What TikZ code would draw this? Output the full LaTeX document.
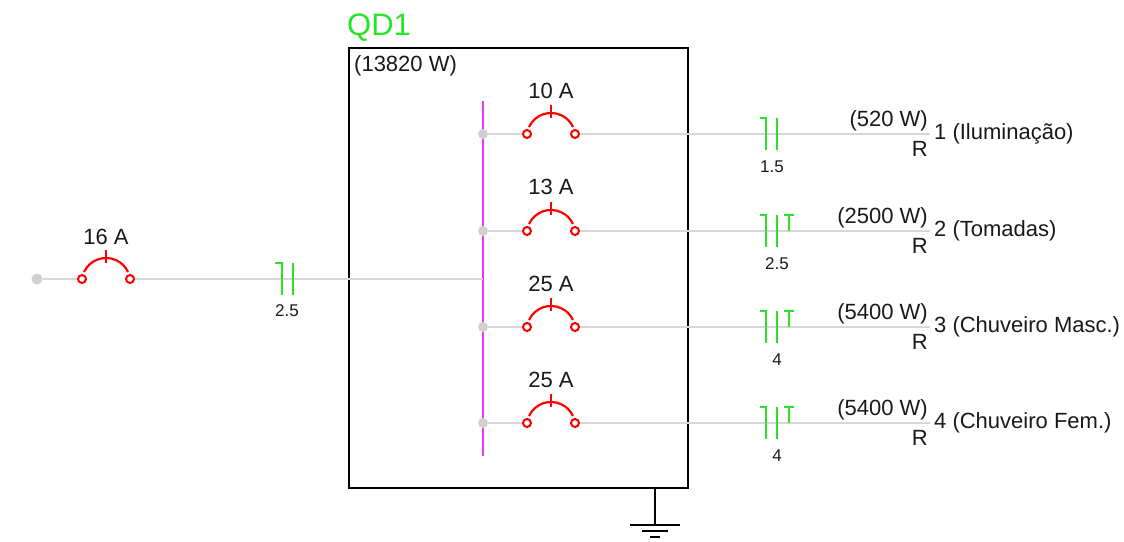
\documentclass[tikz,border=0pt]{standalone}
\usepackage{fontspec}
\setmainfont{Liberation Sans}

\definecolor{wiregray}{RGB}{215,215,215}
\definecolor{dotgray}{RGB}{208,208,208}
\definecolor{cbred}{RGB}{255,0,0}
\definecolor{condgreen}{RGB}{40,228,40}
\definecolor{busmag}{RGB}{245,50,245}
\definecolor{txtgray}{RGB}{25,25,25}

\tikzset{
  wire/.style={wiregray,line width=1.4pt},
  junction/.style={circle,fill=dotgray,draw=none,inner sep=0,minimum size=10pt},
  pin/.style={circle,draw=cbred,fill=white,line width=2pt,inner sep=0,minimum size=8pt},
  cbarc/.style={cbred,line width=2.2pt},
  cond/.style={condgreen,line width=2.2pt},
  lbl/.style={font=\fontsize{22}{26}\selectfont,text=txtgray,inner sep=0},
  small/.style={font=\fontsize{17}{20}\selectfont,text=txtgray,inner sep=0},
}

\begin{document}
\begin{tikzpicture}[x=1pt,y=-1pt]

\useasboundingbox (0,0) rectangle (1124,541);

%% - Quadro QD1
%% - --------------------------------------
\draw[black,line width=1.6pt] (349,48) rectangle (688,488);
\node[anchor=west,inner sep=0,text=condgreen,font=\fontsize{31}{35}\selectfont] (qdname) at (347,28) {QD1};
\node[lbl,anchor=west] (qdpower) at (354,66) {(13820 W)};

%% - Barramento
%% - --------------------------------------
\coordinate (bustop) at (483,101);
\coordinate (busbot) at (483,456);
\coordinate (bus0) at (483,279);
\draw[busmag,line width=2.4pt] (bustop) -- (busbot);

%% - Alimentador
%% - --------------------------------------
\node[junction,minimum size=11pt] (src) at (37,279) {};
\node[pin] (q0l) at (82,279) {};
\node[pin] (q0r) at (130,279) {};
\draw[wire] (src) -- (q0l);
\draw[wire] (q0r) -- (bus0);
\draw[cbarc] (84,272) arc[start angle=205,end angle=335,radius=24.3];
\draw[cbarc] (106,250) -- (106,263);
\node[lbl] (q0amp) at (106,237) {16 A};
\draw[cond] (275,263) -- (282,263) -- (282,295);
\draw[cond] (293,263) -- (293,295);
\node[small] (q0sec) at (287,311) {2.5};

%% - Circuito 1
%% - --------------------------------------
\node[junction] (j1) at (483,134) {};
\node[pin] (c1l) at (527,134) {};
\node[pin] (c1r) at (575,134) {};
\coordinate (e1) at (930,134);
\draw[wire] (j1) -- (c1l);
\draw[wire] (c1r) -- (e1);
\draw[cbarc] (529,127) arc[start angle=205,end angle=335,radius=24.3];
\draw[cbarc] (551,105) -- (551,118);
\node[lbl] (c1amp) at (551,91) {10 A};
\draw[cond] (760,118) -- (766,118) -- (766,150);
\draw[cond] (777,118) -- (777,150);
\node[small] (c1sec) at (772,167) {1.5};
\node[lbl,anchor=east] (c1pow) at (928,121) {(520 W)};
\node[lbl,anchor=east] (c1ph) at (928,149) {R};
\node[lbl,anchor=west] (c1name) at (934,134) {1 (Iluminação)};

%% - Circuito 2
%% - --------------------------------------
\node[junction] (j2) at (483,231) {};
\node[pin] (c2l) at (527,231) {};
\node[pin] (c2r) at (575,231) {};
\coordinate (e2) at (930,231);
\draw[wire] (j2) -- (c2l);
\draw[wire] (c2r) -- (e2);
\draw[cbarc] (529,224) arc[start angle=205,end angle=335,radius=24.3];
\draw[cbarc] (551,202) -- (551,215);
\node[lbl] (c2amp) at (551,187) {13 A};
\draw[cond] (760,215) -- (766,215) -- (766,247);
\draw[cond] (777,215) -- (777,247);
\draw[cond] (784,215) -- (794,215);
\draw[cond] (789,215) -- (789,231);
\node[small] (c2sec) at (777,264) {2.5};
\node[lbl,anchor=east] (c2pow) at (928,218) {(2500 W)};
\node[lbl,anchor=east] (c2ph) at (928,246) {R};
\node[lbl,anchor=west] (c2name) at (934,231) {2 (Tomadas)};

%% - Circuito 3
%% - --------------------------------------
\node[junction] (j3) at (483,327) {};
\node[pin] (c3l) at (527,327) {};
\node[pin] (c3r) at (575,327) {};
\coordinate (e3) at (930,327);
\draw[wire] (j3) -- (c3l);
\draw[wire] (c3r) -- (e3);
\draw[cbarc] (529,320) arc[start angle=205,end angle=335,radius=24.3];
\draw[cbarc] (551,298) -- (551,311);
\node[lbl] (c3amp) at (551,284) {25 A};
\draw[cond] (760,311) -- (766,311) -- (766,343);
\draw[cond] (777,311) -- (777,343);
\draw[cond] (784,311) -- (794,311);
\draw[cond] (789,311) -- (789,327);
\node[small] (c3sec) at (777,360) {4};
\node[lbl,anchor=east] (c3pow) at (928,314) {(5400 W)};
\node[lbl,anchor=east] (c3ph) at (928,342) {R};
\node[lbl,anchor=west] (c3name) at (934,327) {3 (Chuveiro Masc.)};

%% - Circuito 4
%% - --------------------------------------
\node[junction] (j4) at (483,423) {};
\node[pin] (c4l) at (527,423) {};
\node[pin] (c4r) at (575,423) {};
\coordinate (e4) at (930,423);
\draw[wire] (j4) -- (c4l);
\draw[wire] (c4r) -- (e4);
\draw[cbarc] (529,416) arc[start angle=205,end angle=335,radius=24.3];
\draw[cbarc] (551,394) -- (551,407);
\node[lbl] (c4amp) at (551,380) {25 A};
\draw[cond] (760,407) -- (766,407) -- (766,439);
\draw[cond] (777,407) -- (777,439);
\draw[cond] (784,407) -- (794,407);
\draw[cond] (789,407) -- (789,423);
\node[small] (c4sec) at (777,456) {4};
\node[lbl,anchor=east] (c4pow) at (928,410) {(5400 W)};
\node[lbl,anchor=east] (c4ph) at (928,438) {R};
\node[lbl,anchor=west] (c4name) at (934,423) {4 (Chuveiro Fem.)};

%% - Terra
%% - --------------------------------------
\coordinate (gnd) at (655,525);
\draw[black,line width=1.4pt] (655,488) -- (gnd);
\draw[black,line width=1.4pt] (630,525) -- (680,525);
\draw[black,line width=1.4pt] (642,531) -- (668,531);
\draw[black,line width=1.4pt] (650,537) -- (660,537);

\end{tikzpicture}
\end{document}
